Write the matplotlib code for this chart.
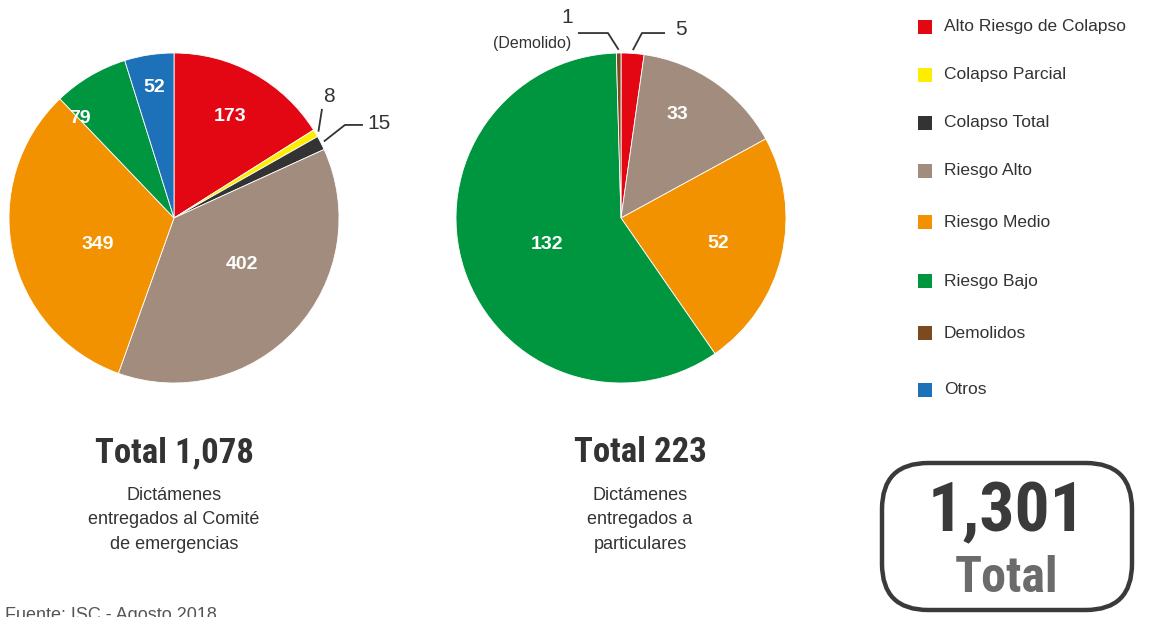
import numpy as np
import matplotlib
matplotlib.use('Agg')
import matplotlib.pyplot as plt
from matplotlib.patches import FancyBboxPatch, Rectangle
from matplotlib import font_manager

plt.rcParams['font.family'] = ['Liberation Sans', 'DejaVu Sans']

W, H = 1155, 617

# ---- data ----
legend_cats = ['Alto Riesgo de Colapso', 'Colapso Parcial', 'Colapso Total', 'Riesgo Alto',
               'Riesgo Medio', 'Riesgo Bajo', 'Demolidos', 'Otros']
cat_colors = ['#E30613', '#FFED00', '#333333', '#A28C7D',
              '#F39200', '#009640', '#7B4A1E', '#1D71B8']

left_cats = ['Alto Riesgo de Colapso', 'Colapso Parcial', 'Colapso Total', 'Riesgo Alto',
             'Riesgo Medio', 'Riesgo Bajo', 'Otros']
left_vals = [173, 8, 15, 402, 349, 79, 52]

right_cats = ['Alto Riesgo de Colapso', 'Riesgo Alto', 'Riesgo Medio', 'Riesgo Bajo', 'Demolidos']
right_vals = [5, 33, 52, 132, 1]

left_caption = 'Dictámenes\nentregados al Comité\nde emergencias'
right_caption = 'Dictámenes\nentregados a\nparticulares'
source_text = 'Fuente: ISC - Agosto 2018'

color_of = dict(zip(legend_cats, cat_colors))
DARK = '#333333'

# condensed heavy face for the totals, if one is installed
names = {f.name for f in font_manager.fontManager.ttflist}
cond = [f for f in font_manager.fontManager.ttflist
        if 'ondensed' in f.fname or 'Narrow' in f.name or 'ondensed' in f.name]
NARROW = None
for cand in ['Liberation Sans Narrow', 'Roboto Condensed', 'Open Sans Condensed',
             'DejaVu Sans Condensed']:
    if cand in names:
        NARROW = cand
        break
HAS_COND = NARROW is not None or len(cond) > 0
TOT_KW = dict(family=[NARROW or 'DejaVu Sans', 'DejaVu Sans'], fontweight='heavy',
              fontstretch='condensed')
scale = 1.0 if HAS_COND else 0.82

fig = plt.figure(figsize=(W / 100, H / 100), dpi=100)
fig.patch.set_facecolor('white')


def pie_axes(cx, cy, r, pad=1.25):
    ax = fig.add_axes([(cx - r * pad) / W, 1 - (cy + r * pad) / H,
                       2 * r * pad / W, 2 * r * pad / H])
    ax.set_xlim(-pad, pad)
    ax.set_ylim(-pad, pad)
    ax.set_aspect('equal')
    ax.axis('off')
    return ax


def draw_pie(ax, cats, vals, inside, outside):
    wedges, _ = ax.pie(vals, colors=[color_of[c] for c in cats], startangle=90,
                       counterclock=False, radius=1,
                       wedgeprops=dict(edgecolor='white', linewidth=0.6))
    ax.set_xlim(-1.25, 1.25)
    ax.set_ylim(-1.25, 1.25)
    for i, (rr, dth) in inside.items():
        w = wedges[i]
        th = np.deg2rad((w.theta1 + w.theta2) / 2 + dth)
        ax.text(rr * np.cos(th), rr * np.sin(th), str(vals[i]), color='white',
                fontsize=14, fontweight='bold', ha='center', va='center')
    for i, (pts, tx, ty, txt, ha, fs) in outside.items():
        w = wedges[i]
        th = np.deg2rad((w.theta1 + w.theta2) / 2)
        xs = [1.02 * np.cos(th)] + [p[0] for p in pts]
        ys = [1.02 * np.sin(th)] + [p[1] for p in pts]
        ax.plot(xs, ys, color=DARK, lw=1.3, clip_on=False, solid_capstyle='butt')
        ax.text(tx, ty, txt, color=DARK, fontsize=fs, ha=ha, va='center')
    return wedges


# left pie
axL = pie_axes(174, 218, 165)
draw_pie(axL, left_cats, left_vals,
         inside={0: (0.705, 0), 3: (0.50, 8), 4: (0.49, 7), 5: (0.83, 13), 6: (0.80, 0)},
         outside={1: ([(0.897, 0.661)], 0.94, 0.735, str(left_vals[1]), 'center', 15),
                  2: ([(1.036, 0.564), (1.145, 0.564)], 1.17, 0.575, str(left_vals[2]), 'left', 15)})

# right pie
axR = pie_axes(621, 218, 165)
draw_pie(axR, right_cats, right_vals,
         inside={1: (0.713, 6), 2: (0.61, -1.6), 3: (0.475, 1.4)},
         outside={4: ([(-0.079, 1.121), (-0.261, 1.121)], -0.327, 1.215,
                      str(right_vals[4]), 'center', 15),
                  0: ([(0.127, 1.121), (0.267, 1.121)], 0.33, 1.14,
                      str(right_vals[0]), 'left', 15)})
axR.text(-0.30, 1.06, '(Demolido)', color=DARK, fontsize=11.5, ha='right', va='center')

# totals and captions
for cx, vals, cap in [(174, left_vals, left_caption), (640, right_vals, right_caption)]:
    fig.text(cx / W, 1 - 453 / H, f'Total {sum(vals):,}', fontsize=25 * scale,
             color=DARK, ha='center', va='center', **TOT_KW)
    fig.text(cx / W, 1 - 520 / H, cap, fontsize=13, color=DARK, ha='center', va='center',
             linespacing=1.55)

# legend
legend_y = [27, 75, 123, 171, 222, 281, 333, 390]
for cat, col, y in zip(legend_cats, cat_colors, legend_y):
    fig.patches.append(Rectangle((918 / W, 1 - (y + 7) / H), 14 / W, 14 / H,
                                 transform=fig.transFigure, facecolor=col, edgecolor='none'))
    fig.text(944 / W, 1 - y / H, cat, fontsize=12.5, color=DARK, ha='left', va='center')

# grand total box
box = FancyBboxPatch((882 / W, 1 - 610 / H), 250 / W, 147 / H,
                     boxstyle='round,pad=0,rounding_size=0.04',
                     transform=fig.transFigure, facecolor='white', edgecolor='#3a3a3a',
                     linewidth=3.2, mutation_aspect=W / H)
fig.patches.append(box)
grand_total = sum(left_vals) + sum(right_vals)
fig.text(1007 / W, 1 - 513 / H, f'{grand_total:,}', fontsize=50 * scale,
         color='#3a3a3a', ha='center', va='center', **TOT_KW)
fig.text(1007 / W, 1 - 578 / H, 'Total', fontsize=36 * scale,
         color='#6b6b6b', ha='center', va='center', **TOT_KW)

# source (partly cut at bottom edge, as in the original)
fig.text(5 / W, 1 - 620 / H, source_text, fontsize=13, color='#555555',
         ha='left', va='baseline')

fig.savefig('out.png', dpi=100, facecolor='white')
